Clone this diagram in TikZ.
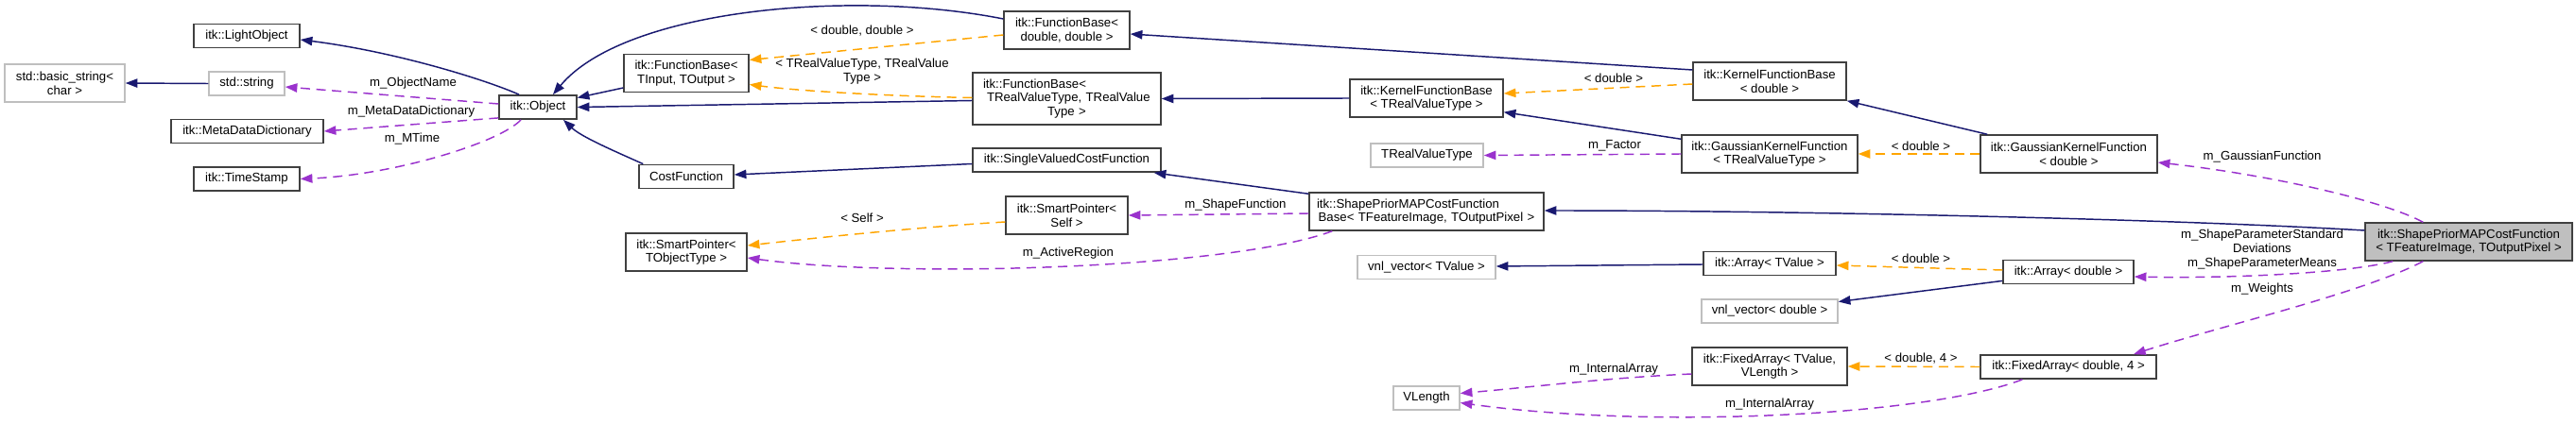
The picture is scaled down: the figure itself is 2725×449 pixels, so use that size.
\documentclass[tikz,border=0pt]{standalone}
\usepackage{fontspec}
\setmainfont{Liberation Sans}
\usetikzlibrary{arrows.meta,calc}
\definecolor{navy}{HTML}{191970}
\definecolor{usecol}{HTML}{9A32CD}
\definecolor{tplcol}{HTML}{FFA500}
\definecolor{boxline}{HTML}{404040}
\definecolor{extline}{HTML}{BFBFBF}
\definecolor{mainfill}{HTML}{BFBFBF}
\newcommand\dfont{\fontsize{9.9pt}{11pt}\selectfont}
\tikzset{
  cls/.style={draw=boxline, line width=1.1pt, fill=white, inner sep=0pt, align=center, font=\dfont},
  ext/.style={cls, draw=extline},
  mainbox/.style={cls, fill=mainfill},
  one/.style={minimum height=19pt},
  two/.style={minimum height=30pt},
  tip/.style={-{Triangle[length=9.5pt,width=7pt]}},
  inh/.style={draw=navy, line width=1.1pt, tip},
  use/.style={draw=usecol, line width=1.1pt, dash pattern=on 7.5pt off 5pt, tip},
  tpl/.style={use, draw=tplcol},
  lbl/.style={inner sep=0pt, align=center, font=\dfont}
}
\begin{document}
\begin{tikzpicture}[x=0.75pt,y=-0.75pt]
\useasboundingbox (0,0) rectangle (2725,449);
% nodes
\node[ext, two, minimum width=95.25pt] (bstr) at (68.5,88) {std::basic\_string<\\char >};
\node[ext, one, minimum width=60pt] (str) at (261,88.5) {std::string};
\node[cls, one, minimum width=84pt] (light) at (261,38) {itk::LightObject};
\node[cls, one, minimum width=120.75pt] (mdd) at (261.5,139) {itk::MetaDataDictionary};
\node[cls, one, minimum width=84pt] (ts) at (261,189.5) {itk::TimeStamp};
\node[cls, one, minimum width=61.5pt] (obj) at (569,113.5) {itk::Object};
\node[cls, two, minimum width=99pt] (fbio) at (726,77.5) {itk::FunctionBase<\\TInput, TOutput >};
\node[cls, two, minimum width=99.75pt] (fbdd) at (1128.5,32) {itk::FunctionBase<\\double, double >};
\node[cls, minimum height=41.25pt, text width=132.75pt, inner xsep=8.25pt, align=left] (fbrv) at (1128.5,104.5)
  {itk::FunctionBase<\\\hspace*{3pt}TRealValueType, TRealValue\\\makebox[\linewidth][c]{Type >}};
\node[cls, one, minimum width=75pt] (cost) at (726,187) {CostFunction};
\node[cls, one, minimum width=149.25pt] (svcf) at (1128.5,169.5) {itk::SingleValuedCostFunction};
\node[cls, two, minimum width=96.75pt] (spself) at (1128.5,228) {itk::SmartPointer<\\Self >};
\node[cls, two, minimum width=96pt] (spobj) at (726,267) {itk::SmartPointer<\\TObjectType >};
\node[cls, two, minimum width=121.5pt] (kfbd) at (1872,86) {itk::KernelFunctionBase\\< double >};
\node[cls, two, minimum width=121.5pt] (kfbr) at (1509,104) {itk::KernelFunctionBase\\< TRealValueType >};
\node[cls, two, minimum width=139.5pt] (gkfr) at (1872,163) {itk::GaussianKernelFunction\\< TRealValueType >};
\node[ext, one, minimum width=89.25pt] (rvt) at (1509.5,164.5) {TRealValueType};
\node[cls, two, text width=180pt, inner xsep=3pt, align=left] (spbase) at (1509,224)
  {\hspace*{3pt}itk::ShapePriorMAPCostFunction\\\makebox[\linewidth][c]{Base< TFeatureImage, TOutputPixel >}};
\node[ext, one, minimum width=109.5pt] (vnlt) at (1509,283) {vnl\_vector< TValue >};
\node[cls, one, minimum width=105pt] (arrt) at (1872,279) {itk::Array< TValue >};
\node[ext, one, minimum width=108pt] (vnld) at (1872,329.5) {vnl\_vector< double >};
\node[cls, two, minimum width=123pt] (fat) at (1872,388) {itk::FixedArray< TValue,\\VLength >};
\node[ext, one, minimum width=52.5pt] (vlen) at (1509,421.5) {VLength};
\node[cls, two, minimum width=140.25pt] (gkfd) at (2188.5,163) {itk::GaussianKernelFunction\\< double >};
\node[mainbox, two, minimum width=164.25pt] (main) at (2611.5,256) {itk::ShapePriorMAPCostFunction\\< TFeatureImage, TOutputPixel >};
\node[cls, one, minimum width=103.5pt] (arrd) at (2188,288) {itk::Array< double >};
\node[cls, one, minimum width=139.5pt] (fad) at (2188,388.5) {itk::FixedArray< double, 4 >};
% edges
\draw[inh] (str.west) -- (bstr.east);
\draw[inh] ($(obj.north)+(-20,0)$) .. controls (515,85) and (420,55) .. ($(light.east)+(0,4)$);
\draw[use] ($(obj.west)+(0,-3.5)$) -- ($(str.east)+(0,3.5)$);
\draw[use] ($(obj.south west)+(0,-2)$) -- (mdd.east);
\draw[use] ($(obj.south)+(-18,0)$) .. controls (530,150) and (420,185) .. (ts.east);
\draw[inh] ($(fbio.west)+(0,15.5)$) -- ($(obj.east)+(0,-10)$);
\draw[inh] ($(fbdd.west)+(0,-12)$) .. controls (900,-12) and (660,10) .. ($(obj.north)+(16,0)$);
\draw[inh] ($(fbrv.west)+(0,2)$) -- (obj.east);
\draw[inh] ($(cost.north west)+(5,0)$) .. controls (650,160) and (615,145) .. ($(obj.south)+(27,0)$);
\draw[tpl] ($(fbdd.west)+(0,5)$) -- ($(fbio.east)+(0,-14)$);
\draw[tpl] ($(fbrv.west)+(0,-1)$) .. controls (950,102) and (850,97) .. ($(fbio.east)+(0,12)$);
\draw[inh] ($(svcf.west)+(0,4)$) -- ($(cost.east)+(0,-2)$);
\draw[tpl] ($(spself.west)+(0,7)$) .. controls (980,240) and (880,250) .. ($(spobj.east)+(0,-7)$);
\draw[use] ($(spbase.west)+(0,2)$) -- (spself.east);
\draw[use] ($(spbase.south west)+(25,0)$) .. controls (1300,285) and (950,295) .. ($(spobj.east)+(0,6)$);
\draw[inh] ($(spbase.north west)+(0,2)$) -- ($(svcf.south east)+(-8,0)$);
\draw[inh] (kfbr.west) -- (fbrv.east);
\draw[inh] ($(kfbd.west)+(0,-12)$) -- ($(fbdd.east)+(0,4)$);
\draw[tpl] ($(kfbd.west)+(0,3)$) -- ($(kfbr.east)+(0,-5)$);
\draw[inh] ($(gkfr.north west)+(0,5)$) -- ($(kfbr.south east)+(0,-6)$);
\draw[use] (gkfr.west) -- (rvt.east);
\draw[tpl] (gkfd.west) -- (gkfr.east);
\draw[inh] ($(gkfd.north west)+(8,0)$) -- (kfbd.south east);
\draw[use] ($(main.north west)+(62,0)$) .. controls (2520,212) and (2400,185) .. ($(gkfd.east)+(0,9)$);
\draw[inh] ($(main.west)+(0,-12)$) .. controls (2300,232) and (1900,223) .. ($(spbase.east)+(0,-1)$);
\draw[use] ($(main.south west)+(30,0)$) .. controls (2480,290) and (2350,295) .. ($(arrd.east)+(0,5)$);
\draw[use] ($(main.south west)+(62,0)$) .. controls (2500,310) and (2350,345) .. ($(fad.north)+(69,0)$);
\draw[tpl] ($(arrd.west)+(0,-2)$) -- ($(arrt.east)+(0,2)$);
\draw[inh] ($(arrd.south west)+(0,-4)$) -- ($(vnld.east)+(0,-10)$);
\draw[inh] ($(arrt.west)+(0,1)$) -- ($(vnlt.east)+(0,-1)$);
\draw[tpl] (fad.west) -- (fat.east);
\draw[use] ($(fat.west)+(0,8)$) .. controls (1700,400) and (1620,410) .. ($(vlen.east)+(0,-5)$);
\draw[use] ($(fad.south west)+(45,0)$) .. controls (2040,440) and (1750,455) .. ($(vlen.east)+(0,5)$);
% labels
\node[lbl] (l1) at (437,88) {m\_ObjectName};
\node[lbl] (l2) at (435,118) {m\_MetaDataDictionary};
\node[lbl] (l3) at (436,147) {m\_MTime};
\node[lbl] (l4) at (912,33) {< double, double >};
\node[lbl] (l5) at (912,75.5) {< TRealValueType, TRealValue\\Type >};
\node[lbl] (l6) at (912,231) {< Self >};
\node[lbl] (l7) at (1130,268) {m\_ActiveRegion};
\node[lbl] (l8) at (1307,217) {m\_ShapeFunction};
\node[lbl] (l9) at (1707,83) {< double >};
\node[lbl] (l10) at (1708,154) {m\_Factor};
\node[lbl] (l11) at (2032,155) {< double >};
\node[lbl] (l12) at (2393,166) {m\_GaussianFunction};
\node[lbl] (l13) at (2393,264) {m\_ShapeParameterStandard\\Deviations\\m\_ShapeParameterMeans};
\node[lbl] (l14) at (2393,306) {m\_Weights};
\node[lbl] (l15) at (2032,274) {< double >};
\node[lbl] (l16) at (2032,380) {< double, 4 >};
\node[lbl] (l17) at (1707,391) {m\_InternalArray};
\node[lbl] (l18) at (1872,428) {m\_InternalArray};
\end{tikzpicture}
\end{document}
